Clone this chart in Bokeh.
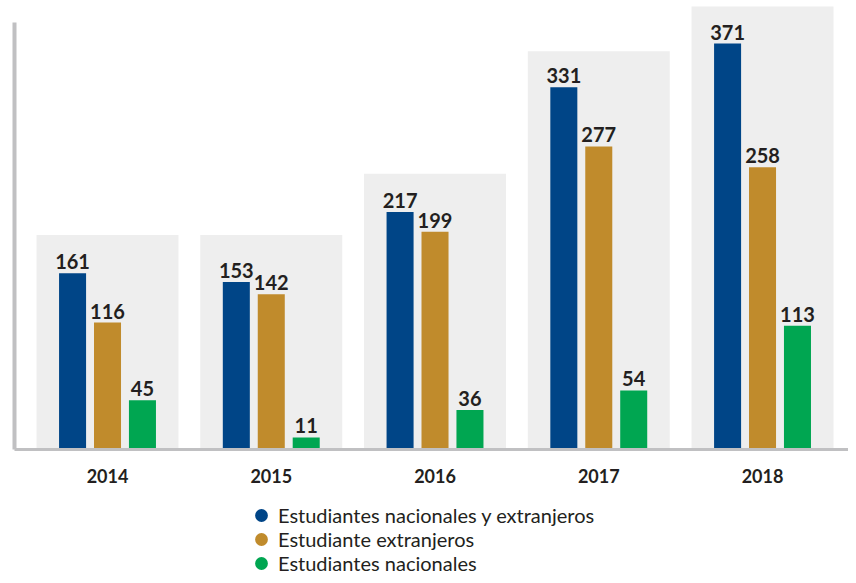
from bokeh.plotting import figure
from bokeh.models import ColumnDataSource, FixedTicker, Legend, LegendItem
from bokeh.layouts import column
from bokeh.embed import file_html
from bokeh.resources import INLINE
from bokeh.core.properties import value

years = [2014, 2015, 2016, 2017, 2018]
ambos = [161, 153, 217, 331, 371]
extranjeros = [116, 142, 199, 277, 258]
nacionales = [45, 11, 36, 54, 113]
panel_tops = [196, 196, 252, 364, 405]
series_names = ["Estudiantes nacionales y extranjeros", "Estudiante extranjeros", "Estudiantes nacionales"]
series_colors = ["#004587", "#c08b2c", "#00a651"]

FONT = "Lato"
TXT = "#231f20"

p = figure(width=848, height=490, output_backend="svg", toolbar_location=None,
           x_range=(2013.432, 2018.525), y_range=(0, 410.4),
           min_border_left=14, min_border_right=0, min_border_top=0, min_border_bottom=41,
           outline_line_color=None, background_fill_color=None, border_fill_color=None)
p.grid.visible = False

# background panels
p.vbar(x=years, top=panel_tops, bottom=0, width=0.867, fill_color="#eeeeee", line_color=None)

offs = [-0.2134, 0.0, 0.2134]
for vals, col, off in zip([ambos, extranjeros, nacionales], series_colors, offs):
    xs = [y + off for y in years]
    src = ColumnDataSource(dict(x=xs, top=vals, lab=[str(v) for v in vals]))
    p.vbar(x="x", top="top", width=0.165, source=src, fill_color=col, line_color=None)
    p.text(x="x", y="top", text="lab", source=src, text_align="center", text_baseline="bottom",
           y_offset=-4, text_font=value(FONT), text_font_style="bold", text_font_size="20px",
           text_color=TXT)

# axes
p.xaxis.ticker = FixedTicker(ticks=years)
p.xaxis.major_tick_line_color = None
p.xaxis.minor_tick_line_color = None
p.xaxis.axis_line_color = "#c0c0c2"
p.xaxis.axis_line_width = 3
p.xaxis.major_label_text_font = FONT
p.xaxis.major_label_text_font_style = "bold"
p.xaxis.major_label_text_font_size = "18px"
p.xaxis.major_label_text_color = TXT
p.xaxis.major_label_standoff = 13

p.yaxis.ticker = FixedTicker(ticks=[])
p.yaxis.major_tick_line_color = None
p.yaxis.minor_tick_line_color = None
p.yaxis.major_label_text_font_size = "0px"
p.yaxis.major_label_standoff = 0
p.yaxis.axis_line_color = "#c0c0c2"
p.yaxis.axis_line_width = 4
p.yaxis.bounds = (0, 390)

# legend figure
q = figure(width=848, height=85, output_backend="svg", toolbar_location=None,
           x_axis_type=None, y_axis_type=None, x_range=(0, 1), y_range=(0, 1),
           min_border_left=0, min_border_right=0, min_border_top=0, min_border_bottom=0,
           outline_line_color=None, background_fill_color=None, border_fill_color=None)
q.grid.visible = False
renderers = []
for col in series_colors:
    renderers.append(q.ellipse(x=[0.5], y=[-5], width=13, height=13,
                               width_units="screen", height_units="screen",
                               fill_color=col, line_color=None))
items = [LegendItem(label=n, renderers=[r]) for n, r in zip(series_names, renderers)]
legend = Legend(items=items, location=(239, 0), orientation="vertical",
                label_text_font=FONT, label_text_font_size="20px", label_text_color=TXT,
                glyph_width=16, glyph_height=16, label_height=20, spacing=0, padding=0,
                margin=0, label_standoff=9,
                border_line_color=None, background_fill_alpha=0)
q.add_layout(legend, "center")

layout = column(p, q, spacing=0)
open("out.html", "w").write(file_html(layout, INLINE))
